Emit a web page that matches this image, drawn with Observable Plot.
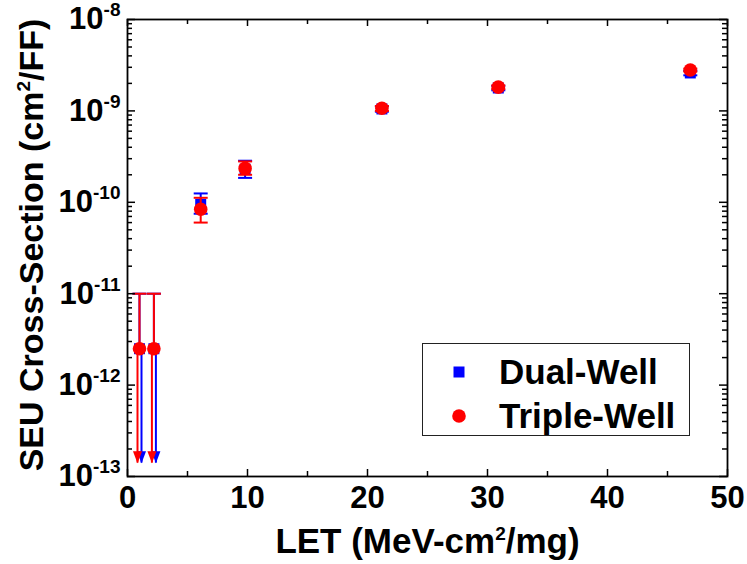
<!DOCTYPE html>
<html><head><meta charset="utf-8">
<script src="https://cdn.jsdelivr.net/npm/d3@7"></script>
<script src="https://cdn.jsdelivr.net/npm/@observablehq/plot@0.6"></script>
<style>
body{margin:0;background:#fff;font-family:"Liberation Sans",Arial,sans-serif;}
#wrap{position:relative;width:747px;height:564px;overflow:hidden;}
#legend{position:absolute;left:422px;top:343px;width:268px;height:93px;border:1.5px solid #222;background:#fff;box-sizing:border-box;}
#legend .row{position:absolute;left:0;height:40px;display:flex;align-items:center;font-weight:bold;font-size:35px;color:#000;}
#legend svg{margin-left:28px;margin-right:32px;}
</style></head><body><div id="wrap"></div>
<script>
// ---- data ----
const seriesNames = ["Dual-Well", "Triple-Well"];
const seriesColors = ["#0000ff", "#ff0000"];
const letValues = [1.0, 2.2, 6.1, 9.8, 21.2, 30.9, 46.9];
const dualValue = [2.5e-12, 2.5e-12, 9.5e-11, 2.3e-10, 1.05e-9, 1.78e-9, 2.6e-9];
const dualHigh  = [1.0e-11, 1.0e-11, 1.25e-10, 2.85e-10, 1.12e-9, 1.88e-9, 2.75e-9];
const dualLow   = [null, null, 7.5e-11, 1.85e-10, 0.98e-9, 1.68e-9, 2.45e-9];
const tripleValue = [2.5e-12, 2.5e-12, 8.4e-11, 2.35e-10, 1.07e-9, 1.82e-9, 2.8e-9];
const tripleHigh  = [1.0e-11, 1.0e-11, 1.12e-10, 2.8e-10, 1.13e-9, 1.9e-9, 2.9e-9];
const tripleLow   = [null, null, 6.0e-11, 2.0e-10, 1.0e-9, 1.74e-9, 2.7e-9];
const arrowTip = 1.4e-13; // upper limit arrows point down to axis
const xTickLabels = [0, 10, 20, 30, 40, 50];
const xMinorTicks = [5, 15, 25, 35, 45];
const yDecades = [1e-13, 1e-12, 1e-11, 1e-10, 1e-9, 1e-8];
const xTitle = "LET (MeV-cm{2}/mg)";
const yTitle = "SEU Cross-Section (cm{2}/FF)";

// ---- layout ----
const W = 747, H = 564, mL = 127, mR = 20, mT = 19, mB = 88;
const plotW = W - mL - mR, plotH = H - mT - mB;

function rowsFor(vals, hi, lo) {
  return letValues.map((x, i) => ({x, y: vals[i], hi: hi[i], lo: lo[i] == null ? arrowTip : lo[i], arrow: lo[i] == null}));
}
const dualRows = rowsFor(dualValue, dualHigh, dualLow);
const tripleRows = rowsFor(tripleValue, tripleHigh, tripleLow);

const yMinor = [];
for (let e = -13; e < -8; e++) for (let m = 2; m <= 9; m++) yMinor.push(m * Math.pow(10, e));

const capSymbol = {draw(ctx, size) { const r = Math.sqrt(size / Math.PI); ctx.moveTo(-r, 0); ctx.lineTo(r, 0); }};
const headSymbol = {draw(ctx, size) { const r = Math.sqrt(size / Math.PI); ctx.moveTo(-r * 0.6, -r * 1.6); ctx.lineTo(r * 0.6, -r * 1.6); ctx.lineTo(0, 0); ctx.closePath(); }};

function seriesMarks(rows, color, symbol, r, arrowDx) {
  const normal = rows.filter(d => !d.arrow), arrows = rows.filter(d => d.arrow);
  return [
    Plot.ruleX(normal, {x: "x", y1: "lo", y2: "hi", stroke: color, strokeWidth: 2}),
    Plot.ruleX(arrows, {x: "x", y1: "y", y2: "hi", stroke: color, strokeWidth: 2}),
    Plot.ruleX(arrows, {x: "x", y1: "lo", y2: "y", stroke: color, strokeWidth: 2, dx: arrowDx}),
    Plot.dot(rows, {x: "x", y: "hi", symbol: capSymbol, r: 7, stroke: color, fill: "none", strokeWidth: 2}),
    Plot.dot(normal, {x: "x", y: "lo", symbol: capSymbol, r: 7, stroke: color, fill: "none", strokeWidth: 2}),
    Plot.dot(arrows, {x: "x", y: "lo", symbol: headSymbol, r: 7.5, fill: color, stroke: "none", dx: arrowDx}),
    Plot.dot(rows, {x: "x", y: "y", symbol, r, fill: color, stroke: "none"})
  ];
}

const tickStyle = {stroke: "#000", strokeWidth: 1.5};
const chart = Plot.plot({
  width: W, height: H,
  marginLeft: mL, marginRight: mR, marginTop: mT, marginBottom: mB,
  style: {fontFamily: "'Liberation Sans', Arial, sans-serif", fontWeight: "bold", color: "#000", background: "#fff"},
  x: {type: "linear", domain: [0, 50], nice: false, label: null},
  y: {type: "log", domain: [1e-13, 1e-8], nice: false, label: null},
  marks: [
    ...seriesMarks(dualRows, seriesColors[0], "square", 6.2, 2),
    ...seriesMarks(tripleRows, seriesColors[1], "circle", 6.8, -2),
    // inward ticks
    Plot.tickY(yDecades, {y: d => d, insetRight: plotW - 8, ...tickStyle}),
    Plot.tickY(yMinor, {y: d => d, insetRight: plotW - 5, ...tickStyle}),
    Plot.tickY(yDecades, {y: d => d, insetLeft: plotW - 8, ...tickStyle}),
    Plot.tickY(yMinor, {y: d => d, insetLeft: plotW - 5, ...tickStyle}),
    Plot.tickX(xTickLabels, {x: d => d, insetTop: plotH - 7, ...tickStyle}),
    Plot.tickX(xMinorTicks, {x: d => d, insetTop: plotH - 5, ...tickStyle}),
    Plot.tickX(xTickLabels, {x: d => d, insetBottom: plotH - 7, ...tickStyle}),
    Plot.tickX(xMinorTicks, {x: d => d, insetBottom: plotH - 5, ...tickStyle}),
    Plot.frame({stroke: "#000", strokeWidth: 1.8}),
    Plot.axisX(xTickLabels, {label: null, tickSize: 0, tickPadding: 9, fontSize: 31, fontWeight: "bold", tickFormat: d => String(d)}),
    Plot.axisY(yDecades, {label: null, tickSize: 0, tickPadding: 7, fontSize: 31, fontWeight: "bold", tickFormat: d => "10{" + Math.round(Math.log10(d)) + "}"}),
    Plot.text([xTitle], {text: d => d, frameAnchor: "bottom", dy: 65, fontSize: 35, fontWeight: "bold", lineAnchor: "middle", textAnchor: "middle"}),
    Plot.text([yTitle], {text: d => d, frameAnchor: "left", dx: -95, dy: -3, rotate: -90, fontSize: 34, fontWeight: "bold", lineAnchor: "middle", textAnchor: "middle"})
  ]
});

// superscripts written as {..}
const SVGNS = "http://www.w3.org/2000/svg";
chart.querySelectorAll("text").forEach(el => {
  const s = el.textContent;
  if (!s.includes("{")) return;
  const fs = parseFloat(el.getAttribute("font-size") || getComputedStyle(el).fontSize) || 30;
  const sup = Math.round(fs * 0.62), shift = Math.round(fs * 0.42);
  el.textContent = "";
  let up = false;
  for (const p of s.split(/(\{[^}]*\})/).filter(p => p)) {
    const t = document.createElementNS(SVGNS, "tspan");
    if (p.startsWith("{")) {
      t.textContent = p.slice(1, -1); t.setAttribute("font-size", sup); t.setAttribute("dy", -shift); up = true;
    } else {
      t.textContent = p; if (up) { t.setAttribute("dy", shift); up = false; }
    }
    el.appendChild(t);
  }
});

const wrap = document.getElementById("wrap");
wrap.appendChild(chart);

// legend
const legend = document.createElement("div");
legend.id = "legend";
const sym = [
  '<svg width="16" height="16"><rect x="2.5" y="2.5" width="11" height="11" fill="' + seriesColors[0] + '"/></svg>',
  '<svg width="16" height="16"><circle cx="8" cy="8" r="6.8" fill="' + seriesColors[1] + '"/></svg>'
];
seriesNames.forEach((name, i) => {
  const row = document.createElement("div");
  row.className = "row";
  row.style.top = (i === 0 ? 8 : 52) + "px";
  row.innerHTML = sym[i] + "<span>" + name + "</span>";
  legend.appendChild(row);
});
wrap.appendChild(legend);
</script></body></html>
